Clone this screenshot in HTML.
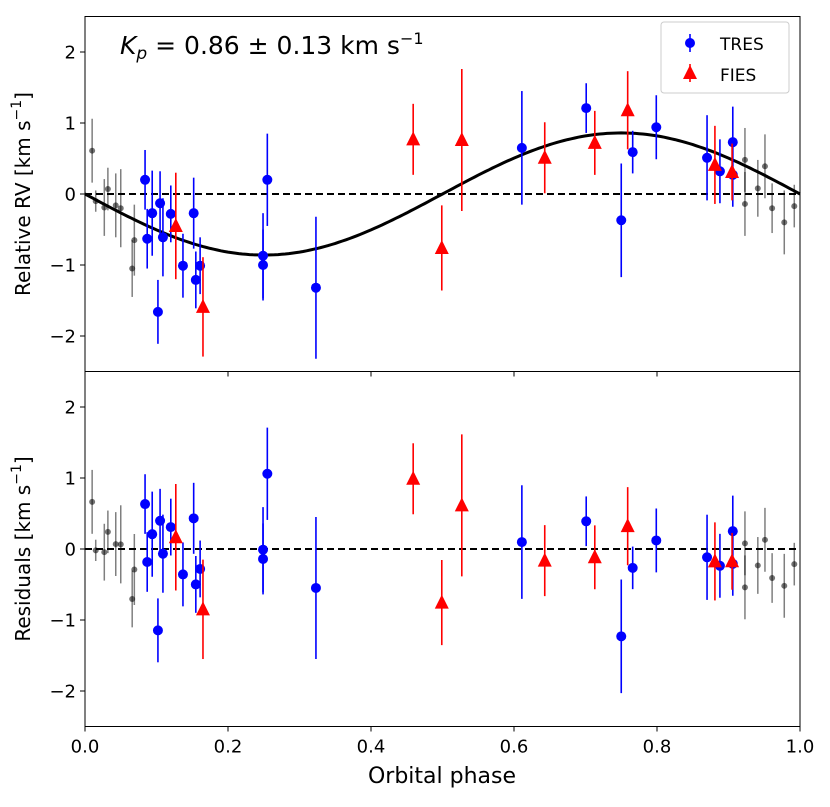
<!DOCTYPE html>
<html><head><meta charset="utf-8"><style>
body{margin:0;background:#fff}
svg text{font-family:"DejaVu Sans","Liberation Sans",sans-serif}
</style></head><body>
<svg id="c" width="830" height="802" xmlns="http://www.w3.org/2000/svg"></svg>
<script>
const Kp=0.86;
const tresPhase=[0.084,0.087,0.094,0.102,0.105,0.109,0.120,0.137,0.152,0.155,0.161,0.249,0.249,0.255,0.323,0.611,0.701,0.750,0.766,0.799,0.870,0.888,0.906,0.906];
const tresRV=[0.20,-0.63,-0.27,-1.66,-0.13,-0.61,-0.28,-1.01,-0.27,-1.21,-1.01,-0.87,-1.0,0.20,-1.32,0.65,1.21,-0.37,0.59,0.94,0.51,0.32,0.73,0.27];
const tresErr=[0.42,0.42,0.6,0.45,0.45,0.55,0.4,0.45,0.5,0.4,0.4,0.6,0.5,0.65,1.0,0.8,0.35,0.8,0.3,0.45,0.6,0.45,0.5,0.45];
const fiesPhase=[0.127,0.165,0.459,0.499,0.527,0.643,0.713,0.759,0.881,0.905];
const fiesRV=[-0.45,-1.59,0.77,-0.76,0.76,0.51,0.72,1.18,0.41,0.31];
const fiesErr=[0.75,0.7,0.5,0.6,1.0,0.5,0.45,0.55,0.55,0.4];
const grayPhase=[0.010,0.015,0.027,0.032,0.043,0.050,0.066,0.069,0.923,0.923,0.941,0.951,0.961,0.978,0.992];
const grayRV=[0.61,-0.10,-0.19,0.07,-0.16,-0.20,-1.05,-0.65,0.48,-0.14,0.08,0.39,-0.20,-0.40,-0.17];
const grayErr=[0.45,0.15,0.4,0.3,0.45,0.55,0.4,0.5,0.45,0.45,0.4,0.45,0.35,0.45,0.3];
const xTicks=[0,0.2,0.4,0.6,0.8,1.0];
const xTickLabels=["0.0","0.2","0.4","0.6","0.8","1.0"];
const yTicks=[-2,-1,0,1,2];
const yTickLabels=["\u22122","\u22121","0","1","2"];

const NS="http://www.w3.org/2000/svg";
const svg=document.getElementById('c');
const X0=85,X1=800;
const panels=[{top:16.5,bot:371.5},{top:371.5,bot:726.5}];
function sx(v){return X0+(X1-X0)*v;}
function sy(p,v){const P=panels[p];return P.bot-(v+2.5)/5*(P.bot-P.top);}
function mk(tag,attrs,parent){const e=document.createElementNS(NS,tag);for(const k in attrs)e.setAttribute(k,attrs[k]);(parent||svg).appendChild(e);return e;}
function model(ph){return -Kp*Math.sin(2*Math.PI*ph);}

for(let p=0;p<2;p++){
  const g=mk('g',{});
  
  
  const z=mk('line',{x1:X0,x2:X1,y1:sy(p,0),y2:sy(p,0),stroke:'#000','stroke-width':2,'stroke-dasharray':'7,4'},g);
  
  
  if(p==0){
    let d='';
    for(let i=0;i<=200;i++){const ph=i/200;d+=(i?'L':'M')+sx(ph).toFixed(1)+','+sy(0,model(ph)).toFixed(1);}
    const m=mk('path',{d:d,fill:'none',stroke:'#000','stroke-width':3},g);
    
    
  }
  const val=(ph,rv)=>p==0?rv:rv-model(ph);
  grayPhase.forEach((ph,i)=>{
    const v=val(ph,grayRV[i]);
    const l=mk('line',{x1:sx(ph),x2:sx(ph),y1:sy(p,v-grayErr[i]),y2:sy(p,v+grayErr[i]),stroke:'rgba(0,0,0,0.5)','stroke-width':1.5},g);
    
    
    const c=mk('circle',{cx:sx(ph),cy:sy(p,v),r:3,fill:'rgba(0,0,0,0.55)'},g);
    
    
  });
  tresPhase.forEach((ph,i)=>{
    const v=val(ph,tresRV[i]);
    const l=mk('line',{x1:sx(ph),x2:sx(ph),y1:sy(p,v-tresErr[i]),y2:sy(p,v+tresErr[i]),stroke:'#0000ff','stroke-width':1.6},g);
    
    
    const c=mk('circle',{cx:sx(ph),cy:sy(p,v),r:5,fill:'#0000ff'},g);
    
    
  });
  fiesPhase.forEach((ph,i)=>{
    const v=val(ph,fiesRV[i]);
    const l=mk('line',{x1:sx(ph),x2:sx(ph),y1:sy(p,v-fiesErr[i]),y2:sy(p,v+fiesErr[i]),stroke:'#ff0000','stroke-width':1.6},g);
    
    
    const x=sx(ph),y=sy(p,v);
    const t=mk('polygon',{points:`${x},${y-8} ${x-7},${y+6} ${x+7},${y+6}`,fill:'#ff0000'},g);
    
    
  });
  const P=panels[p];
  const f=mk('rect',{x:X0,y:P.top,width:X1-X0,height:P.bot-P.top,fill:'none',stroke:'#000','stroke-width':1},g);
  
  
  yTicks.forEach((t,i)=>{
    const y=sy(p,t);
    mk('line',{x1:X0-5,x2:X0,y1:y,y2:y,stroke:'#000'},g);
    const tx=mk('text',{x:X0-9,y:y+6.5,'font-size':18,'text-anchor':'end'},g);
    tx.textContent=yTickLabels[i];
    
    
  });
  xTicks.forEach((t,i)=>{
    const x=sx(t);
    mk('line',{x1:x,x2:x,y1:P.bot,y2:P.bot+5,stroke:'#000'},g);
    if(p==1){
      const tx=mk('text',{x:x,y:P.bot+26,'font-size':18,'text-anchor':'middle'},g);
      tx.textContent=xTickLabels[i];
      
      
    }
  });
}
</script>
<svg style="position:absolute;left:0;top:0" width="830" height="802" xmlns="http://www.w3.org/2000/svg">
<text x="120" y="54" font-size="25" font-family="DejaVu Sans,sans-serif"><tspan font-style="italic">K</tspan><tspan font-style="italic" font-size="17" dy="5">p</tspan><tspan dy="-5"> = 0.86 ± 0.13 km s</tspan><tspan font-size="16" dy="-10">−1</tspan></text>
<g>
<rect x="661" y="22" width="128" height="71" rx="3" fill="#fff" stroke="#ccc"/>
<g><line x1="690" x2="690" y1="34" y2="52" stroke="#0000ff" stroke-width="1.6"/><circle cx="690" cy="43" r="5" fill="#0000ff"/><text x="720" y="50" font-size="17" font-family="DejaVu Sans,sans-serif">TRES</text></g>
<g><line x1="690" x2="690" y1="64" y2="82" stroke="#ff0000" stroke-width="1.6"/><polygon points="690,65 683,79 697,79" fill="#ff0000"/><text x="720" y="81" font-size="17" font-family="DejaVu Sans,sans-serif">FIES</text></g>
</g>
<text transform="translate(30,194) rotate(-90)" text-anchor="middle" font-size="20" font-family="DejaVu Sans,sans-serif">Relative RV [km s<tspan font-size="14" dy="-9">−1</tspan><tspan dy="9">]</tspan></text>
<text transform="translate(30,549) rotate(-90)" text-anchor="middle" font-size="20" font-family="DejaVu Sans,sans-serif">Residuals [km s<tspan font-size="14" dy="-9">−1</tspan><tspan dy="9">]</tspan></text>
<text x="442" y="783" text-anchor="middle" font-size="22" font-family="DejaVu Sans,sans-serif">Orbital phase</text>
</svg>
</body></html>
